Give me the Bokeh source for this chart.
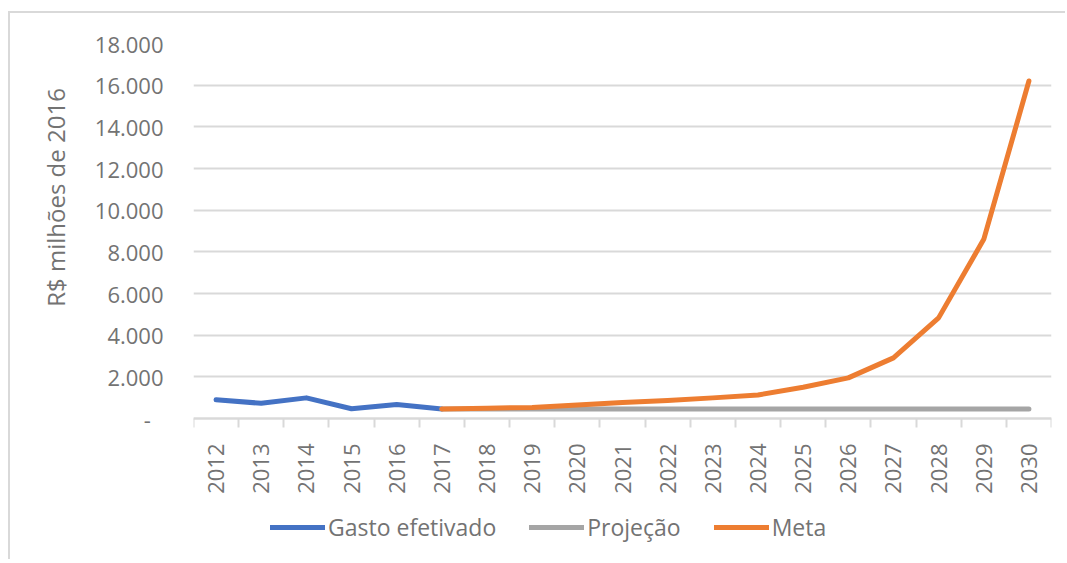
from bokeh.plotting import figure
from bokeh.models import FixedTicker, Legend, LegendItem
from bokeh.embed import file_html
from bokeh.resources import INLINE
import math

years = [2012, 2013, 2014, 2015, 2016, 2017, 2018, 2019, 2020, 2021,
         2022, 2023, 2024, 2025, 2026, 2027, 2028, 2029, 2030]
year_labels = [str(y) for y in years]

gasto_years = [2012, 2013, 2014, 2015, 2016, 2017]
gasto = [900, 730, 990, 470, 670, 460]

proj_years = [2017, 2018, 2019, 2020, 2021, 2022, 2023, 2024, 2025, 2026, 2027, 2028, 2029, 2030]
projecao = [460, 460, 460, 460, 460, 460, 460, 460, 460, 460, 460, 460, 460, 460]

meta_years = [2017, 2018, 2019, 2020, 2021, 2022, 2023, 2024, 2025, 2026, 2027, 2028, 2029, 2030]
meta = [460, 495, 530, 650, 770, 865, 990, 1130, 1500, 1950, 2910, 4830, 8600, 16200]

y_ticks = [0, 2000, 4000, 6000, 8000, 10000, 12000, 14000, 16000, 18000]
y_tick_labels = ["-\u2007", "2.000", "4.000", "6.000", "8.000", "10.000",
                 "12.000", "14.000", "16.000", "18.000"]

FONT = "Open Sans"
TXT = "#737373"
GRID = "#d9d9d9"

# frame spans 43..555 px (page); 0 sits at 418, 18000 at 43 -> 48 units/px
Y_MIN = -(555 - 418) * 18000 / 375

p = figure(width=1057, height=548,
           x_range=(years[0] - 0.5, years[-1] + 0.5), y_range=(Y_MIN, 18000),
           output_backend="svg", toolbar_location=None,
           min_border_left=183, min_border_right=16, min_border_top=30,
           min_border_bottom=6, margin=(11, 0, 0, 8))
p.styles = {"border-left": "2px solid #d9d9d9", "border-top": "2px solid #d9d9d9"}
p.outline_line_color = None
p.background_fill_color = "white"

# x axis (sits at value 0 inside the frame)
p.xaxis.fixed_location = 0
p.xaxis.ticker = FixedTicker(ticks=years,
                             minor_ticks=[y - 0.5 for y in years] + [years[-1] + 0.5])
p.xaxis.major_label_overrides = {y: l for y, l in zip(years, year_labels)}
p.xaxis.major_label_orientation = math.pi / 2
p.xaxis.major_tick_out = 0
p.xaxis.major_tick_in = 0
p.xaxis.minor_tick_out = 9
p.xaxis.minor_tick_in = 0
p.xaxis.minor_tick_line_color = GRID
p.xaxis.minor_tick_line_width = 2
p.xaxis.axis_line_color = GRID
p.xaxis.axis_line_width = 2
p.xaxis.major_label_standoff = 16
p.xaxis.major_label_text_font = FONT
p.xaxis.major_label_text_font_size = "22px"
p.xaxis.major_label_text_color = TXT
p.xgrid.grid_line_color = None

# y axis
p.yaxis.ticker = FixedTicker(ticks=y_ticks)
p.yaxis.major_label_overrides = {t: l for t, l in zip(y_ticks, y_tick_labels)}
p.yaxis.axis_line_color = None
p.yaxis.major_tick_line_color = None
p.yaxis.minor_tick_line_color = None
p.yaxis.major_tick_out = 0
p.yaxis.major_label_standoff = 30
p.yaxis.major_label_text_font = FONT
p.yaxis.major_label_text_font_size = "22px"
p.yaxis.major_label_text_color = TXT
p.yaxis.axis_label = "\u2003" * 8 + "\u2002R$ milhões de 2016"
p.yaxis.axis_label_text_font = FONT
p.yaxis.axis_label_text_font_size = "24px"
p.yaxis.axis_label_text_font_style = "normal"
p.yaxis.axis_label_text_color = TXT
p.yaxis.axis_label_standoff = 20
p.ygrid.grid_line_color = GRID
p.ygrid.grid_line_width = 2

r_gasto = p.line(gasto_years, gasto, line_color="#4472C4", line_width=5,
                 line_cap="round", line_join="round")
r_proj = p.line(proj_years, projecao, line_color="#A5A5A5", line_width=5,
                line_cap="round", line_join="round")
r_meta = p.line(meta_years, meta, line_color="#ED7D31", line_width=5,
                line_cap="round", line_join="round")

legend = Legend(items=[LegendItem(label="Gasto efetivado", renderers=[r_gasto]),
                       LegendItem(label="Projeção", renderers=[r_proj]),
                       LegendItem(label="Meta", renderers=[r_meta])],
                orientation="horizontal", location=(77, 12),
                border_line_color=None, background_fill_alpha=0,
                glyph_width=55, glyph_height=20, label_standoff=3, spacing=33,
                padding=0, margin=0,
                label_text_font=FONT, label_text_font_size="23px",
                label_text_color=TXT)
p.add_layout(legend, "center")

open("out.html", "w").write(file_html(p, INLINE))
